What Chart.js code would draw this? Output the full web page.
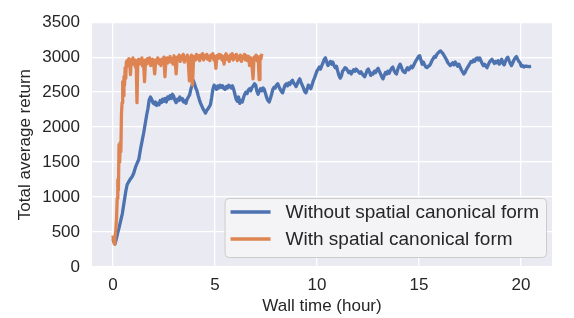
<!DOCTYPE html>
<html>
<head>
<meta charset="utf-8">
<script src="https://cdn.jsdelivr.net/npm/chart.js@4.4.1/dist/chart.umd.min.js"></script>
<style>
  html, body { margin: 0; padding: 0; background: #ffffff; }
  #wrap { width: 574px; height: 318px; }
</style>
</head>
<body>
<div id="wrap"><canvas id="returnChart" width="574" height="318"></canvas></div>
<script>
// ---- dati ----
var seriesLabels = ['Without spatial canonical form', 'With spatial canonical form'];
var xTickValues = [0, 5, 10, 15, 20];
var yTickValues = [0, 500, 1000, 1500, 2000, 2500, 3000, 3500];

// senza forma canonica (blu)
var withoutHours = [
  0.00, 0.05, 0.10, 0.15, 0.22, 0.30, 0.38, 0.46, 0.55, 0.63, 0.70, 0.78, 0.86, 0.94,
  1.02, 1.10, 1.18, 1.27, 1.35, 1.43, 1.51, 1.59, 1.66, 1.72, 1.78, 1.84, 1.90, 1.96,
  2.02, 2.08, 2.14, 2.20, 2.26, 2.32, 2.38, 2.44, 2.50, 2.56, 2.62, 2.68, 2.74, 2.80, 2.86, 2.92, 2.98,
  3.04, 3.10, 3.16, 3.22, 3.28, 3.34, 3.40, 3.46, 3.52, 3.58, 3.64, 3.70, 3.76, 3.82, 3.88, 3.94,
  4.00, 4.06, 4.12, 4.18, 4.24, 4.30, 4.36, 4.42, 4.48, 4.54, 4.60, 4.66, 4.72, 4.78, 4.84, 4.90, 4.96,
  5.02, 5.08, 5.14, 5.20, 5.26, 5.32, 5.38, 5.44, 5.50, 5.56, 5.62, 5.68, 5.74, 5.80, 5.86, 5.92, 5.98,
  6.04, 6.10, 6.16, 6.22, 6.28, 6.34, 6.40, 6.46, 6.52, 6.58, 6.64, 6.70, 6.76, 6.82, 6.88, 6.94,
  7.00, 7.06, 7.12, 7.18, 7.24, 7.30, 7.36, 7.42, 7.48, 7.54, 7.60, 7.66, 7.72, 7.78, 7.84, 7.90, 7.96,
  8.02, 8.08, 8.14, 8.20, 8.26, 8.32, 8.38, 8.44, 8.50, 8.56, 8.62, 8.68, 8.74, 8.80, 8.86, 8.92, 8.98,
  9.04, 9.10, 9.16, 9.22, 9.28, 9.34, 9.40, 9.46, 9.52, 9.58, 9.64, 9.70, 9.76, 9.82, 9.88, 9.94,
  10.00, 10.06, 10.12, 10.18, 10.24, 10.30, 10.36, 10.42, 10.48, 10.54, 10.60, 10.66, 10.72, 10.78, 10.84, 10.90, 10.96,
  11.02, 11.08, 11.14, 11.20, 11.26, 11.32, 11.38, 11.44, 11.50, 11.56, 11.62, 11.68, 11.74, 11.80, 11.86, 11.92, 11.98,
  12.04, 12.10, 12.16, 12.22, 12.28, 12.34, 12.40, 12.46, 12.52, 12.58, 12.64, 12.70, 12.76, 12.82, 12.88, 12.94,
  13.00, 13.06, 13.12, 13.18, 13.24, 13.30, 13.36, 13.42, 13.48, 13.54, 13.60, 13.66, 13.72, 13.78, 13.84, 13.90, 13.96,
  14.02, 14.08, 14.14, 14.20, 14.26, 14.32, 14.38, 14.44, 14.50, 14.56, 14.62, 14.68, 14.74, 14.80, 14.86, 14.92, 14.98,
  15.04, 15.10, 15.16, 15.22, 15.28, 15.34, 15.40, 15.46, 15.52, 15.58, 15.64, 15.70, 15.76, 15.82, 15.88, 15.94,
  16.00, 16.06, 16.12, 16.18, 16.24, 16.30, 16.36, 16.42, 16.48, 16.54, 16.60, 16.66, 16.72, 16.78, 16.84, 16.90, 16.96,
  17.02, 17.08, 17.14, 17.20, 17.26, 17.32, 17.38, 17.44, 17.50, 17.56, 17.62, 17.68, 17.74, 17.80, 17.86, 17.92, 17.98,
  18.04, 18.10, 18.16, 18.22, 18.28, 18.34, 18.40, 18.46, 18.52, 18.58, 18.64, 18.70, 18.76, 18.82, 18.88, 18.94,
  19.00, 19.06, 19.12, 19.18, 19.24, 19.30, 19.36, 19.42, 19.48, 19.54, 19.60, 19.66, 19.72, 19.78, 19.84, 19.90, 19.96,
  20.02, 20.08, 20.14, 20.20, 20.30, 20.40, 20.50
];
var withoutReturn = [
  400, 360, 330, 380, 470, 560, 660, 760, 930, 1080, 1180, 1220, 1260, 1290,
  1340, 1420, 1480, 1540, 1680, 1800, 1920, 2060, 2180, 2270, 2390, 2430, 2400, 2350,
  2330, 2360, 2310, 2340, 2320, 2380, 2350, 2400, 2370, 2410, 2360, 2430, 2400, 2450, 2410, 2470, 2440,
  2380, 2350, 2400, 2380, 2430, 2390, 2410, 2360, 2380, 2340, 2400, 2430, 2460, 2540, 2600, 2670,
  2620, 2560, 2520, 2450, 2390, 2340, 2300, 2260, 2230, 2200, 2240, 2260, 2290, 2320, 2420, 2540, 2600,
  2570, 2540, 2590, 2560, 2600, 2570, 2590, 2550, 2540, 2580, 2560, 2600, 2580, 2560, 2590, 2540, 2470,
  2400, 2370, 2430, 2340, 2380, 2360, 2420, 2470, 2500, 2480, 2530, 2550, 2520, 2570, 2590, 2620,
  2600, 2510, 2470, 2520, 2550, 2520, 2560, 2540, 2480, 2420, 2380, 2360, 2410, 2470, 2540, 2570, 2560,
  2600, 2620, 2580, 2540, 2510, 2490, 2550, 2600, 2620, 2590, 2630, 2610, 2650, 2670, 2630, 2610, 2580,
  2620, 2660, 2690, 2640, 2600, 2560, 2510, 2490, 2540, 2600, 2580, 2550, 2600, 2660, 2700, 2750,
  2800, 2830, 2860, 2830, 2880, 2920, 2970, 2990, 2930, 2880, 2910, 2940, 2900, 2930, 2880, 2850, 2870,
  2800, 2740, 2700, 2730, 2800, 2820, 2850, 2840, 2810, 2780, 2800, 2760, 2790, 2820, 2800, 2830, 2810,
  2790, 2770, 2790, 2760, 2740, 2720, 2760, 2810, 2830, 2790, 2740, 2770, 2760, 2800, 2780, 2820,
  2840, 2800, 2760, 2720, 2690, 2740, 2780, 2760, 2800, 2770, 2810, 2840, 2860, 2810, 2780, 2760, 2820,
  2870, 2900, 2860, 2810, 2790, 2780, 2820, 2850, 2820, 2840, 2870, 2850, 2880, 2920, 2950, 2980, 3010,
  3020, 2960, 2900, 2930, 2890, 2860, 2850, 2870, 2880, 2910, 2950, 2980, 3010, 3000, 3040, 3060,
  3080, 3090, 3070, 3050, 3020, 2990, 2960, 2920, 2900, 2880, 2900, 2920, 2890, 2930, 2900, 2870, 2900,
  2860, 2820, 2790, 2760, 2780, 2820, 2850, 2880, 2910, 2940, 2930, 2960, 2940, 2980, 2990, 2960, 2990,
  2950, 2910, 2880, 2900, 2870, 2850, 2890, 2930, 2950, 2970, 2940, 2910, 2940, 2920, 2950, 2900,
  2930, 2970, 2910, 2890, 2940, 2980, 3000, 2950, 2910, 2880, 2920, 2960, 2990, 3010, 2970, 2940, 2920,
  2870, 2880, 2860, 2870, 2870, 2865, 2870
];

// con forma canonica (arancio)
var withHours = [
  0.00, 0.04, 0.07, 0.10, 0.14, 0.18, 0.21, 0.24, 0.27, 0.30, 0.33, 0.36, 0.39, 0.42, 0.45, 0.48,
  0.51, 0.54, 0.57, 0.60, 0.63, 0.66, 0.70, 0.74, 0.78, 0.82, 0.86, 0.90, 0.94, 0.98,
  1.02, 1.06, 1.10, 1.14, 1.18, 1.22, 1.26, 1.30, 1.34, 1.38, 1.42, 1.46, 1.50, 1.55, 1.60, 1.65,
  1.70, 1.75, 1.80, 1.85, 1.90, 1.95, 2.00, 2.05, 2.10, 2.15, 2.20, 2.25, 2.30, 2.35, 2.40, 2.45,
  2.50, 2.55, 2.60, 2.65, 2.70, 2.75, 2.80, 2.85, 2.90, 2.95, 3.00, 3.05, 3.10, 3.15, 3.20, 3.25,
  3.30, 3.35, 3.40, 3.45, 3.50, 3.55, 3.60, 3.65, 3.70, 3.75, 3.80, 3.85, 3.90, 3.95, 4.00, 4.05,
  4.10, 4.15, 4.20, 4.25, 4.30, 4.35, 4.40, 4.45, 4.50, 4.55, 4.60, 4.65, 4.70, 4.75, 4.80, 4.85,
  4.90, 4.95, 5.00, 5.05, 5.10, 5.15, 5.20, 5.25, 5.30, 5.35, 5.40, 5.45, 5.50, 5.55, 5.60, 5.65,
  5.70, 5.75, 5.80, 5.85, 5.90, 5.95, 6.00, 6.05, 6.10, 6.15, 6.20, 6.25, 6.30, 6.35, 6.40, 6.45,
  6.50, 6.55, 6.60, 6.65, 6.70, 6.75, 6.80, 6.87, 6.92, 6.97, 7.02, 7.07, 7.12, 7.17, 7.21, 7.25, 7.30
];
var withReturn = [
  450, 380, 330, 420, 520, 700, 980, 1250, 1100, 1750, 1500, 1780, 1650, 2200, 2350, 2650,
  2450, 2720, 2600, 2850, 2700, 2930, 2950, 2880, 2980, 2940, 2750, 2960, 2920, 2990,
  2900, 2960, 2860, 2950, 2350, 2950, 2970, 2900, 2960, 2930, 2990, 2870, 2950, 2650, 2960, 2900,
  2980, 2920, 2990, 2880, 2950, 2970, 2900, 2760, 2960, 2930, 2990, 2910, 2960, 2880, 2970, 2940,
  3000, 2720, 2950, 2990, 2920, 2970, 3010, 2930, 2980, 2900, 3020, 2950, 2760, 3000, 2960, 3030,
  2940, 3010, 2970, 3040, 2930, 3000, 2960, 3030, 2900, 2660, 2980, 3030, 2600, 2950, 3010, 2960,
  3040, 2980, 3020, 2950, 3030, 2990, 3050, 2960, 3020, 2990, 3040, 2970, 3010, 2950, 3030, 3000,
  3050, 2960, 3010, 2840, 3020, 2980, 3040, 2990, 3030, 2960, 3010, 2900, 3020, 3050, 2970, 3010,
  2940, 3030, 2980, 3050, 2960, 3020, 2990, 3040, 2950, 3010, 2970, 3030, 2940, 3010, 2980, 3040,
  2960, 3020, 2950, 3010, 2880, 2990, 2940, 2690, 3000, 2960, 3030, 2950, 3000, 2680, 3010, 2970, 3050
];

var blueColor = '#4C72B0';
var orangeColor = '#DD8452';
var textColor = '#262626';
var fontFamily = "'Liberation Sans', Arial, sans-serif";
var fontSize = 17;
var legendFontSize = 19;

function toPoints(xs, ys) {
  return xs.map(function (x, i) {
    return { x: x, y: ys[i] };
  });
}

// sfondo grigio stile seaborn
var backgroundPlugin = {
  id: 'plotBackground',
  beforeDraw: function (chart) {
    var ctx = chart.ctx;
    var area = chart.chartArea;
    ctx.save();
    ctx.fillStyle = '#EAEAF2';
    ctx.fillRect(area.left, area.top, area.right - area.left, area.bottom - area.top);
    ctx.restore();
  }
};

// legenda dentro il grafico, in basso a destra
var insideLegendPlugin = {
  id: 'insideLegend',
  afterDatasetsDraw: function (chart) {
    var ctx = chart.ctx;
    var area = chart.chartArea;
    var sets = chart.data.datasets;
    ctx.save();
    ctx.font = legendFontSize + 'px ' + fontFamily;
    var textW = 0;
    sets.forEach(function (ds) {
      textW = Math.max(textW, ctx.measureText(ds.label).width);
    });
    var rowH = 27;
    var boxW = 6 + 40 + 15 + textW + 7;
    var boxH = 14 + rowH * (sets.length - 1) + 18;
    var right = area.right - 6;
    var bottom = area.bottom - 10;
    var left = right - boxW;
    var top = bottom - boxH;

    ctx.beginPath();
    ctx.roundRect(left + 0.5, top + 0.5, boxW, boxH, 4);
    ctx.fillStyle = 'rgba(244,244,246,0.92)';
    ctx.fill();
    ctx.strokeStyle = '#CCCCCC';
    ctx.lineWidth = 1;
    ctx.stroke();

    sets.forEach(function (ds, i) {
      var y = top + 14 + i * rowH;
      ctx.beginPath();
      ctx.moveTo(left + 6, y);
      ctx.lineTo(left + 46, y);
      ctx.strokeStyle = ds.borderColor;
      ctx.lineWidth = 3.3;
      ctx.stroke();
      ctx.fillStyle = textColor;
      ctx.textBaseline = 'middle';
      ctx.textAlign = 'left';
      ctx.fillText(ds.label, left + 61, y + 1);
    });
    ctx.restore();
  }
};

var canvas = document.getElementById('returnChart');

var returnChart = new Chart(canvas, {
  type: 'line',
  data: {
    datasets: [
      {
        label: seriesLabels[0],
        data: toPoints(withoutHours, withoutReturn),
        borderColor: blueColor,
        backgroundColor: blueColor,
        borderWidth: 3.3,
        pointRadius: 0,
        tension: 0,
        borderJoinStyle: 'round',
        order: 1
      },
      {
        label: seriesLabels[1],
        data: toPoints(withHours, withReturn),
        borderColor: orangeColor,
        backgroundColor: orangeColor,
        borderWidth: 3.3,
        pointRadius: 0,
        tension: 0,
        borderJoinStyle: 'round',
        order: 0
      }
    ]
  },
  options: {
    responsive: false,
    devicePixelRatio: 1,
    animation: false,
    layout: { padding: { top: 17, right: 22, left: 0, bottom: 0 } },
    plugins: {
      legend: { display: false },
      tooltip: { enabled: false }
    },
    scales: {
      x: {
        type: 'linear',
        min: -1.025,
        max: 21.525,
        afterBuildTicks: function (scale) {
          scale.ticks = xTickValues.map(function (v) { return { value: v }; });
        },
        afterFit: function (scale) { scale.height = 51; },
        grid: { color: '#FFFFFF', lineWidth: 1.3, drawTicks: false },
        border: { display: false },
        ticks: {
          padding: 8,
          color: textColor,
          font: { family: fontFamily, size: fontSize },
          callback: function (value) { return String(value); }
        },
        title: {
          display: true,
          text: 'Wall time (hour)',
          color: textColor,
          font: { family: fontFamily, size: fontSize },
          padding: { top: 1, bottom: 1 }
        }
      },
      y: {
        min: 0,
        max: 3500,
        afterBuildTicks: function (scale) {
          scale.ticks = yTickValues.map(function (v) { return { value: v }; });
        },
        afterFit: function (scale) { scale.width = 92; },
        grid: { color: '#FFFFFF', lineWidth: 1.3, drawTicks: false },
        border: { display: false },
        ticks: {
          padding: 12,
          color: textColor,
          font: { family: fontFamily, size: fontSize },
          callback: function (value) { return String(value); }
        },
        title: {
          display: true,
          text: 'Total average return',
          color: textColor,
          font: { family: fontFamily, size: fontSize },
          padding: { top: 15, bottom: 0 }
        }
      }
    }
  },
  plugins: [backgroundPlugin, insideLegendPlugin]
});
</script>
</body>
</html>
